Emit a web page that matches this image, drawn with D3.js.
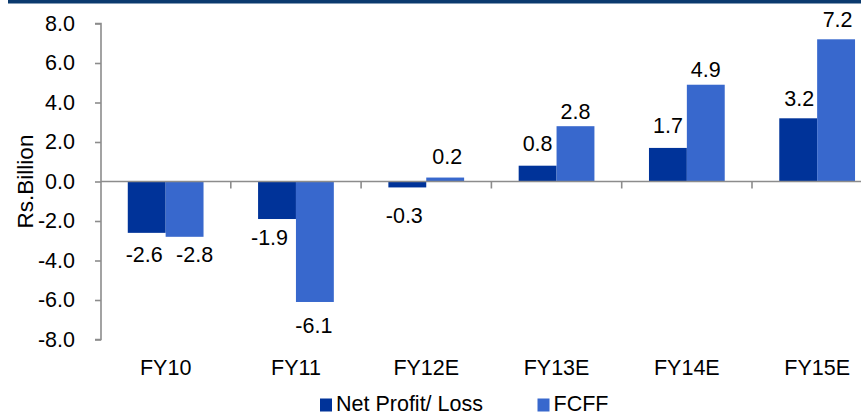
<!DOCTYPE html>
<html>
<head>
<meta charset="utf-8">
<script src="https://cdn.jsdelivr.net/npm/d3@7"></script>
<style>
  html, body { margin: 0; padding: 0; background: #ffffff; }
  svg { display: block; font-family: "Liberation Sans", Arial, sans-serif; }
</style>
</head>
<body>
<svg id="chart" width="861" height="416"></svg>
<script>
// Fiscal years on the category axis
const categories = ["FY10", "FY11", "FY12E", "FY13E", "FY14E", "FY15E"];
// Rs. billion
const netProfit = [-2.6, -1.9, -0.3, 0.8, 1.7, 3.2];
const fcff = [-2.8, -6.1, 0.2, 2.8, 4.9, 7.2];
const seriesNames = ["Net Profit/ Loss", "FCFF"];
const yTicks = [-8, -6, -4, -2, 0, 2, 4, 6, 8];

// Small hand-tuned nudges so value labels don't collide: [dx, dy]
const netLabelNudge = [[-2.5, 1.5], [-7.5, -1.6], [-3, 8], [0, -3], [0, -2.7], [1, -0.5]];
const fcffLabelNudge = [[10, -2.4], [-1, 3.5], [2, -2], [0, 4.6], [0, 3.8], [1.5, -0.8]];

const colors = ["#003399", "#3868CD"];
const axisGray = "#8c8c8c";
const fontSize = 21.5;

// One decimal, plain hyphen for negatives
const fmt = v => d3.format(".1f")(v).replace("\u2212", "-");

const svg = d3.select("#chart");

// Header rule across the top
svg.append("rect")
  .attr("x", 8).attr("y", 0)
  .attr("width", 853).attr("height", 3.5)
  .attr("fill", "#0b3a6e");

const y = d3.scaleLinear().domain([-8, 8]).range([339.5, 23.5]);
const x0 = d3.scaleBand().domain(categories).range([100.5, 882.3]).paddingInner(0).paddingOuter(0);
const x1 = d3.scaleBand().domain(seriesNames).range([0, x0.bandwidth()]).paddingInner(0).paddingOuter(0.72);

const rows = categories.map((c, i) => ({
  cat: c,
  vals: [
    { s: seriesNames[0], v: netProfit[i], nudge: netLabelNudge[i], color: colors[0] },
    { s: seriesNames[1], v: fcff[i], nudge: fcffLabelNudge[i], color: colors[1] }
  ]
}));

// Bars
const groups = svg.append("g").selectAll("g")
  .data(rows).join("g")
  .attr("transform", d => `translate(${x0(d.cat)},0)`);

groups.selectAll("rect")
  .data(d => d.vals).join("rect")
  .attr("x", d => x1(d.s))
  .attr("width", x1.bandwidth())
  .attr("y", d => y(Math.max(0, d.v)))
  .attr("height", d => Math.abs(y(d.v) - y(0)))
  .attr("fill", d => d.color);

// Value labels
groups.selectAll("text")
  .data(d => d.vals).join("text")
  .attr("x", d => x1(d.s) + x1.bandwidth() / 2 + d.nudge[0])
  .attr("y", d => (d.v >= 0 ? y(d.v) - 12 : y(d.v) + 28) + d.nudge[1])
  .attr("text-anchor", "middle")
  .attr("font-size", fontSize)
  .attr("fill", "#000")
  .text(d => fmt(d.v));

// Y axis
const yAxis = d3.axisLeft(y).tickValues(yTicks).tickSize(6).tickPadding(20)
  .tickFormat(fmt);
const gy = svg.append("g").attr("transform", "translate(101,0)").call(yAxis);
gy.select(".domain").attr("stroke", axisGray).attr("stroke-width", 1.6).attr("d", `M-6,${y(8)}H0V${y(-8)}H-6`);
gy.selectAll(".tick line").attr("stroke", axisGray).attr("stroke-width", 1.6);
gy.selectAll(".tick text").attr("font-size", fontSize).attr("fill", "#000")
  .attr("font-family", "Liberation Sans, Arial, sans-serif");

// Zero line with category boundary ticks
const xAxis = d3.axisBottom(x0).tickSize(0).tickFormat("");
const gx = svg.append("g").attr("transform", `translate(0,${y(0)})`).call(xAxis);
gx.select(".domain").attr("stroke", axisGray).attr("stroke-width", 1.6).attr("d", `M101,0H882`);
gx.selectAll(".tick").remove();
gx.selectAll(".sep")
  .data(categories.slice(1)).join("line")
  .attr("class", "sep")
  .attr("x1", d => x0(d)).attr("x2", d => x0(d))
  .attr("y1", 0).attr("y2", 7)
  .attr("stroke", axisGray).attr("stroke-width", 1.6);

// Category labels
svg.append("g").selectAll("text")
  .data(categories).join("text")
  .attr("x", d => x0(d) + x0.bandwidth() / 2)
  .attr("y", 375)
  .attr("text-anchor", "middle")
  .attr("font-size", fontSize)
  .attr("fill", "#000")
  .text(d => d);

// Y axis title
svg.append("text")
  .attr("transform", `translate(33,${(y(8) + y(-8)) / 2}) rotate(-90)`)
  .attr("text-anchor", "middle")
  .attr("font-size", 22.5)
  .attr("fill", "#000")
  .text("Rs.Billion");

// Legend, kept clear of the bottom edge
const legendX = [320, 537.5];
const legend = svg.append("g").selectAll("g")
  .data(seriesNames).join("g")
  .attr("transform", (d, i) => `translate(${legendX[i]},398.5)`);
legend.append("rect")
  .attr("width", 12).attr("height", 13)
  .attr("fill", (d, i) => colors[i]);
legend.append("text")
  .attr("x", 16).attr("y", 12.5)
  .attr("font-size", 21.5)
  .attr("fill", "#000")
  .text(d => d);
</script>
</body>
</html>
